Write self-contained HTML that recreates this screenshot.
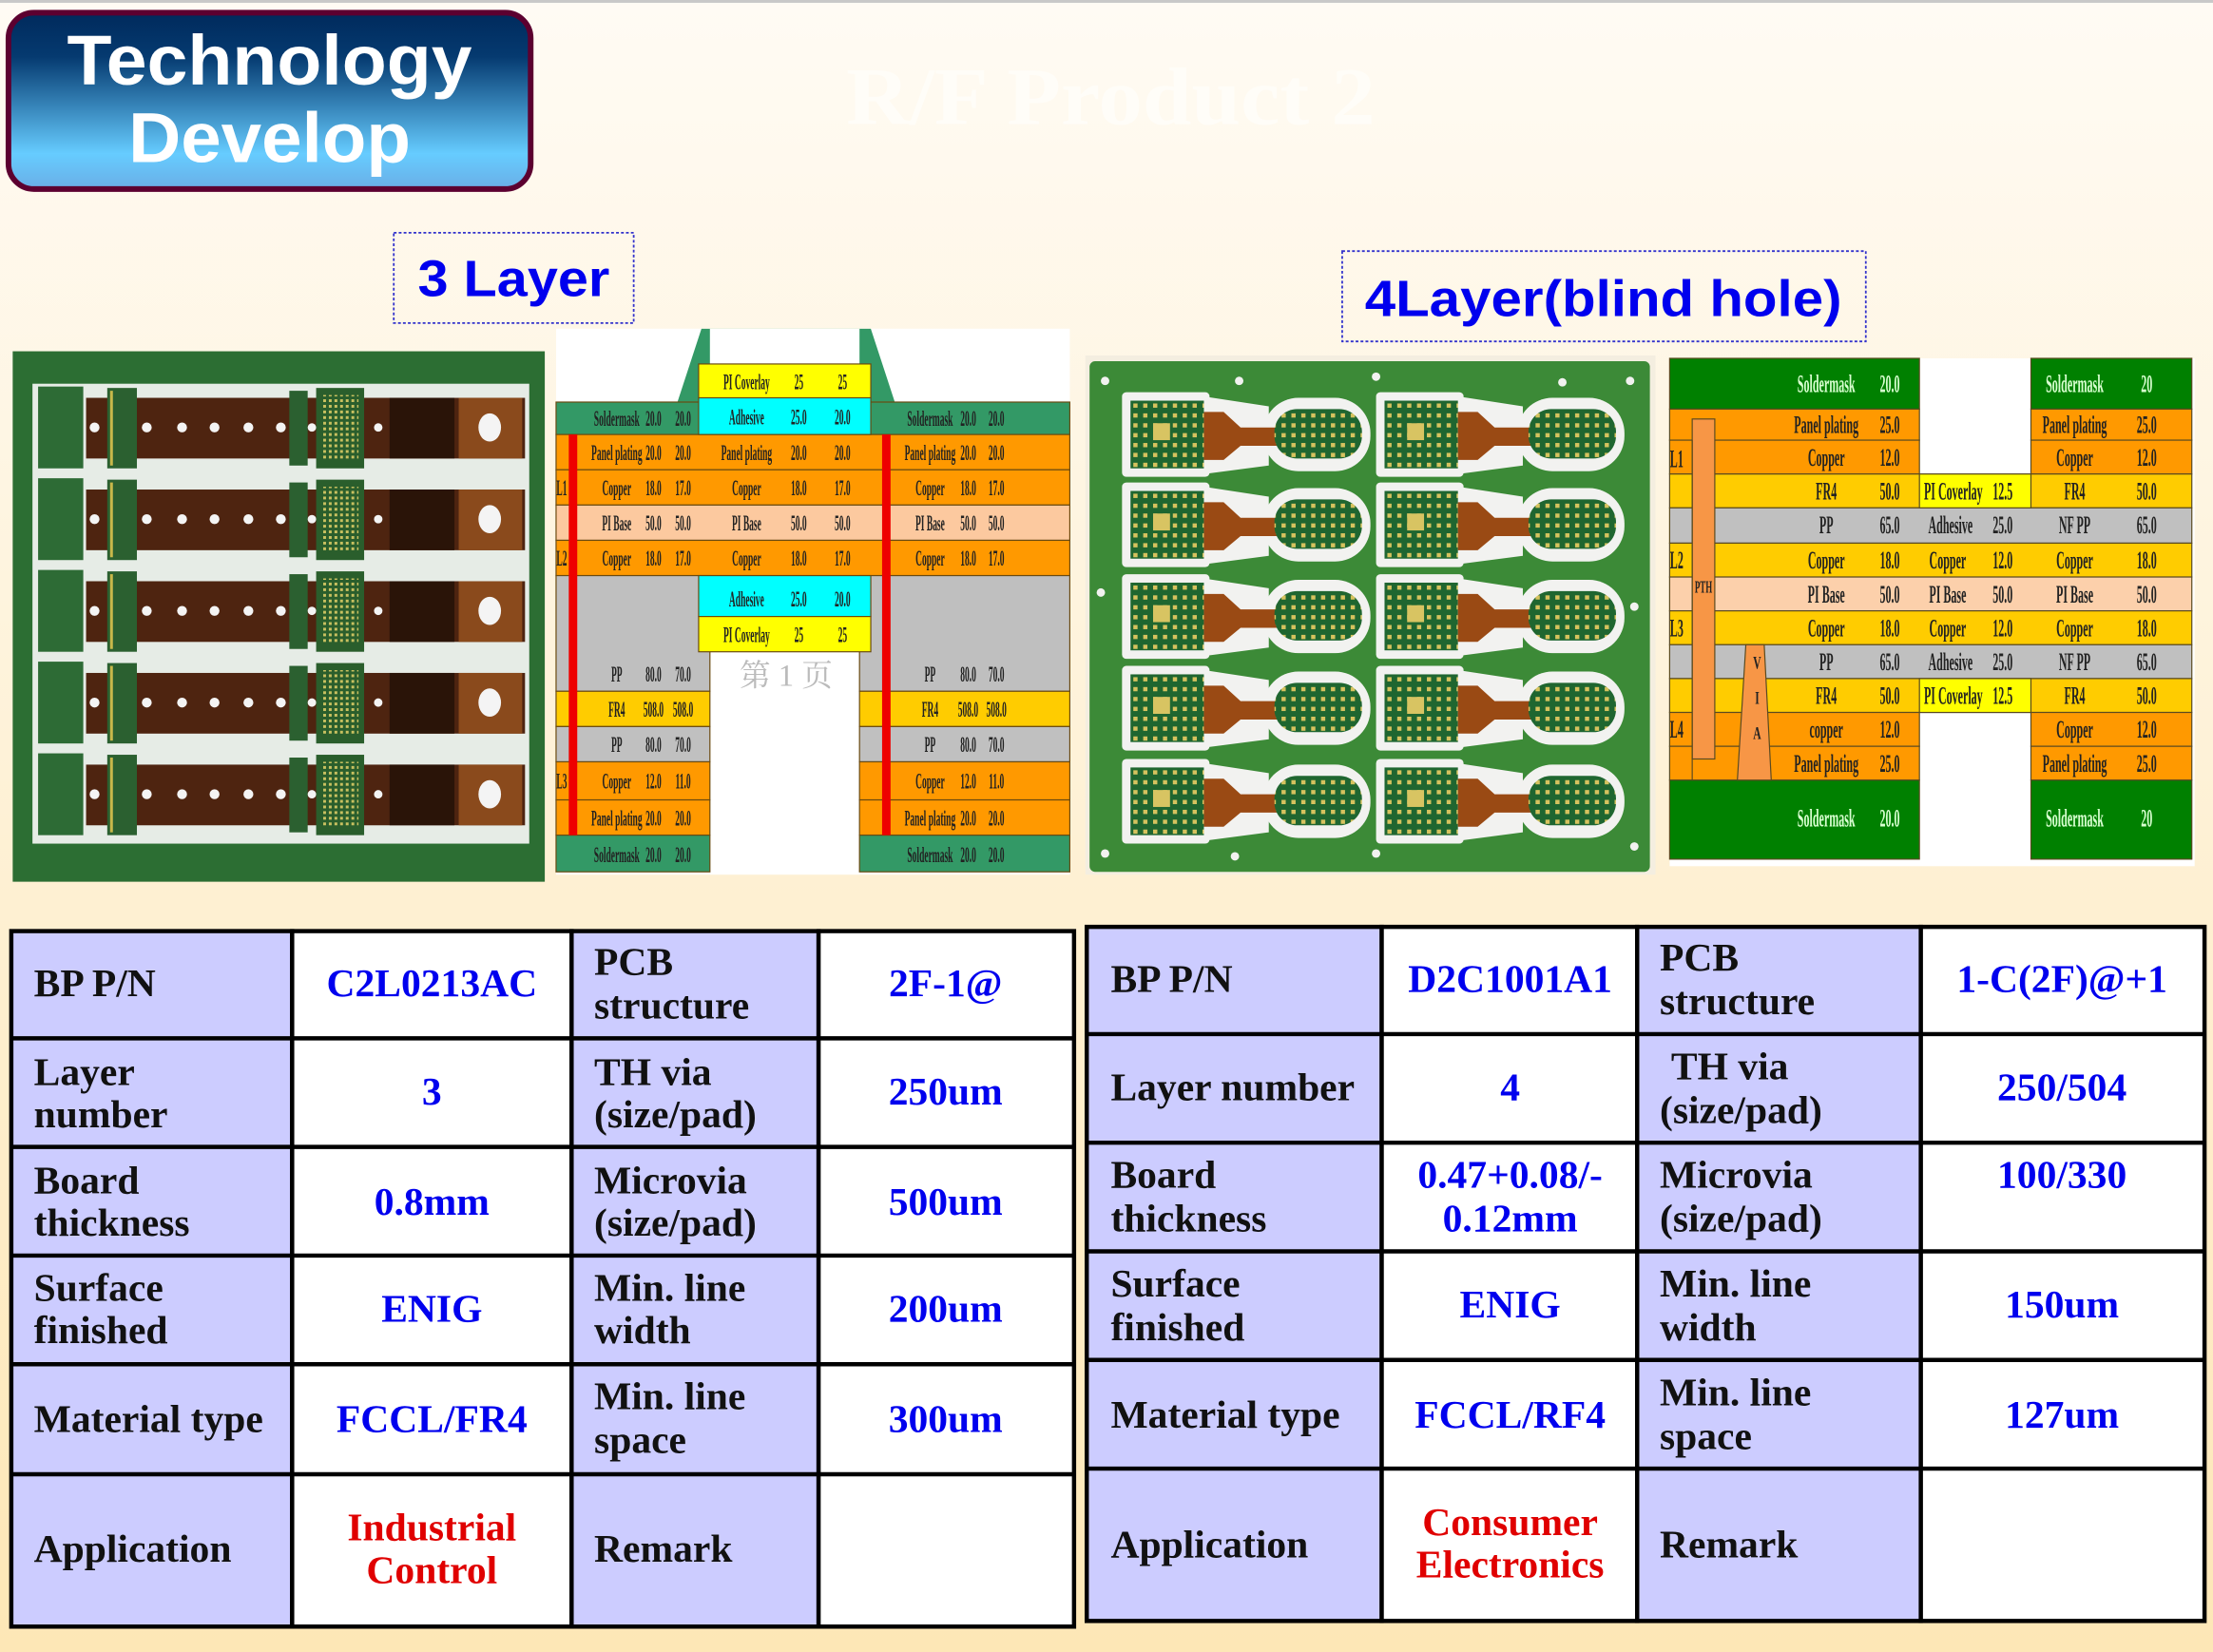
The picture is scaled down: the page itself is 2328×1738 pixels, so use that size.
<!DOCTYPE html>
<html><head><meta charset="utf-8"><style>
html,body{margin:0;padding:0;}
body{width:2328px;height:1738px;overflow:hidden;}
svg{display:block;}
.st{font-family:"Liberation Serif",serif;font-weight:bold;font-size:16px;fill:#222;text-anchor:middle;}
.st2{font-family:"Liberation Serif",serif;font-weight:bold;font-size:18px;fill:#222;text-anchor:middle;}
.sw{fill:#d8ffd0;}
.tl{font-family:"Liberation Serif",serif;font-weight:bold;font-size:28px;fill:#111;}
.tv{font-family:"Liberation Serif",serif;font-weight:bold;font-size:28px;fill:#0000ee;text-anchor:middle;}
.tr{font-family:"Liberation Serif",serif;font-weight:bold;font-size:28px;fill:#e00000;text-anchor:middle;}
</style></head><body>
<svg width="2328" height="1738" viewBox="0 0 1568 1171" preserveAspectRatio="none" xmlns="http://www.w3.org/2000/svg">
<defs>
<linearGradient id="bg" x1="0" y1="0" x2="0" y2="1"><stop offset="0" stop-color="#fffbf4"/><stop offset="1" stop-color="#fde7b6"/></linearGradient>
<linearGradient id="tb" x1="0" y1="0" x2="0" y2="1"><stop offset="0" stop-color="#002a5c"/><stop offset="0.25" stop-color="#053a70"/><stop offset="0.8" stop-color="#66ccff"/><stop offset="1" stop-color="#6aaee6"/></linearGradient>
<pattern id="pads" width="7" height="7" patternUnits="userSpaceOnUse"><rect width="7" height="7" fill="#1f6630"/><rect x="1" y="1" width="3" height="3" fill="#d6c25e"/></pattern>
<pattern id="bga" width="4" height="4" patternUnits="userSpaceOnUse"><rect width="4" height="4" fill="#2a5e2c"/><rect x="1" y="1" width="2" height="2" fill="#c8c060"/></pattern>
</defs>
<rect width="1568" height="1171" fill="url(#bg)"/>
<rect width="1568" height="2" fill="#c8c8c8"/>

<rect x="6" y="9" width="370" height="125" rx="18" fill="url(#tb)" stroke="#5c0030" stroke-width="4"/>
<text x="191" y="60" text-anchor="middle" font-family="Liberation Sans,sans-serif" font-weight="bold" font-size="50" fill="#fff" textLength="287" lengthAdjust="spacingAndGlyphs">Technology</text>
<text x="191" y="115" text-anchor="middle" font-family="Liberation Sans,sans-serif" font-weight="bold" font-size="50" fill="#fff" textLength="200" lengthAdjust="spacingAndGlyphs">Develop</text>
<text x="787" y="88" text-anchor="middle" font-family="Liberation Serif,serif" font-weight="bold" font-size="58" fill="#fffdf8" textLength="375" lengthAdjust="spacingAndGlyphs">R/F Product 2</text>

<rect x="279" y="165" width="170" height="64" fill="none" stroke="#3333cc" stroke-width="1.2" stroke-dasharray="2 1.5"/>
<text x="364" y="210" text-anchor="middle" font-family="Liberation Sans,sans-serif" font-weight="bold" font-size="36" fill="#0000ee" textLength="136" lengthAdjust="spacingAndGlyphs">3 Layer</text>
<rect x="951" y="178" width="371" height="64" fill="none" stroke="#3333cc" stroke-width="1.2" stroke-dasharray="2 1.5"/>
<text x="1136" y="224" text-anchor="middle" font-family="Liberation Sans,sans-serif" font-weight="bold" font-size="36" fill="#0000ee" textLength="338" lengthAdjust="spacingAndGlyphs">4Layer(blind hole)</text>

<!-- photo 1 -->
<rect x="9" y="249" width="377" height="376" fill="#2c6e33"/>
<rect x="23" y="272" width="352" height="326" fill="#e6ece6"/>
<g id="r1" transform="translate(0,282)">
<rect x="27" y="-8" width="32" height="58" fill="#2d6b35"/>
<rect x="61" y="0" width="311" height="43" fill="#4e2410"/>
<rect x="76" y="-7" width="21" height="57" fill="#2b6030"/>
<rect x="78" y="-5" width="2" height="53" fill="#c8b84a"/>
<rect x="205" y="-5" width="13" height="53" fill="#2b6030"/>
<rect x="224" y="-7" width="34" height="57" fill="#2a5e2c"/>
<rect x="228" y="-2" width="26" height="46" fill="url(#bga)"/>
<rect x="276" y="0" width="46" height="43" fill="#2a1408"/>
<rect x="325" y="0" width="45" height="43" fill="#8a4a1c"/>
<ellipse cx="347" cy="21" rx="8" ry="10" fill="#f4f4f4"/>
<g fill="#f4f4f4"><circle cx="67" cy="21" r="3.5"/><circle cx="104" cy="21" r="3.5"/><circle cx="129" cy="21" r="3.5"/><circle cx="152" cy="21" r="3.5"/><circle cx="176" cy="21" r="3.5"/><circle cx="199" cy="21" r="3.5"/><circle cx="221" cy="21" r="3"/><circle cx="268" cy="21" r="3"/></g>
</g>
<use href="#r1" transform="translate(0,65)"/>
<use href="#r1" transform="translate(0,130)"/>
<use href="#r1" transform="translate(0,195)"/>
<use href="#r1" transform="translate(0,260)"/>

<!-- stackup 1 -->
<rect x="394" y="233" width="364" height="387" fill="#fff"/>
<polygon points="480,285 497,233 617,233 634,285" fill="#339966"/>
<rect x="503" y="233" width="106" height="26" fill="#fff"/>
<g stroke="#6a4a10" stroke-width="0.8">
<rect x="394" y="285" width="364" height="23" fill="#339966"/>
<rect x="394" y="308" width="364" height="25" fill="#ff9900"/>
<rect x="394" y="333" width="364" height="25" fill="#ff9900"/>
<rect x="394" y="358" width="364" height="25" fill="#fcc99f"/>
<rect x="394" y="383" width="364" height="25" fill="#ff9900"/>
<rect x="394" y="408" width="109" height="82" fill="#bfbfbf"/>
<rect x="609" y="408" width="149" height="82" fill="#bfbfbf"/>
<rect x="394" y="490" width="109" height="25" fill="#ffcc00"/>
<rect x="609" y="490" width="149" height="25" fill="#ffcc00"/>
<rect x="394" y="515" width="109" height="25" fill="#c0c0c0"/>
<rect x="609" y="515" width="149" height="25" fill="#c0c0c0"/>
<rect x="394" y="540" width="109" height="27" fill="#ff9900"/>
<rect x="609" y="540" width="149" height="27" fill="#ff9900"/>
<rect x="394" y="567" width="109" height="25" fill="#ff9900"/>
<rect x="609" y="567" width="149" height="25" fill="#ff9900"/>
<rect x="394" y="592" width="109" height="26" fill="#339966"/>
<rect x="609" y="592" width="149" height="26" fill="#339966"/>
<rect x="495" y="258" width="122" height="24" fill="#ffff00"/>
<rect x="495" y="282" width="122" height="26" fill="#00ffff"/>
<rect x="495" y="408" width="122" height="29" fill="#00ffff"/>
<rect x="495" y="437" width="122" height="25" fill="#ffff00"/>
</g>
<rect x="403" y="308" width="6" height="284" fill="#ee0000"/>
<rect x="625" y="308" width="6" height="284" fill="#ee0000"/>
<text x="557" y="486" font-family="Liberation Serif,Noto Serif CJK SC,serif" font-size="22" fill="#bbb" text-anchor="middle">第 1 页</text>
<g class="st">
<text transform="translate(398,351) scale(.4 1)">L1</text><text transform="translate(398,401) scale(.4 1)">L2</text><text transform="translate(398,559) scale(.4 1)">L3</text>
<text transform="translate(437,302) scale(.4 1)">Soldermask</text><text transform="translate(463,302) scale(.4 1)">20.0</text><text transform="translate(484,302) scale(.4 1)">20.0</text>
<text transform="translate(437,326) scale(.4 1)">Panel plating</text><text transform="translate(463,326) scale(.4 1)">20.0</text><text transform="translate(484,326) scale(.4 1)">20.0</text>
<text transform="translate(437,351) scale(.4 1)">Copper</text><text transform="translate(463,351) scale(.4 1)">18.0</text><text transform="translate(484,351) scale(.4 1)">17.0</text>
<text transform="translate(437,376) scale(.4 1)">PI Base</text><text transform="translate(463,376) scale(.4 1)">50.0</text><text transform="translate(484,376) scale(.4 1)">50.0</text>
<text transform="translate(437,401) scale(.4 1)">Copper</text><text transform="translate(463,401) scale(.4 1)">18.0</text><text transform="translate(484,401) scale(.4 1)">17.0</text>
<text transform="translate(437,483) scale(.4 1)">PP</text><text transform="translate(463,483) scale(.4 1)">80.0</text><text transform="translate(484,483) scale(.4 1)">70.0</text>
<text transform="translate(437,508) scale(.4 1)">FR4</text><text transform="translate(463,508) scale(.4 1)">508.0</text><text transform="translate(484,508) scale(.4 1)">508.0</text>
<text transform="translate(437,533) scale(.4 1)">PP</text><text transform="translate(463,533) scale(.4 1)">80.0</text><text transform="translate(484,533) scale(.4 1)">70.0</text>
<text transform="translate(437,559) scale(.4 1)">Copper</text><text transform="translate(463,559) scale(.4 1)">12.0</text><text transform="translate(484,559) scale(.4 1)">11.0</text>
<text transform="translate(437,585) scale(.4 1)">Panel plating</text><text transform="translate(463,585) scale(.4 1)">20.0</text><text transform="translate(484,585) scale(.4 1)">20.0</text>
<text transform="translate(437,611) scale(.4 1)">Soldermask</text><text transform="translate(463,611) scale(.4 1)">20.0</text><text transform="translate(484,611) scale(.4 1)">20.0</text>

<text transform="translate(529,276) scale(.4 1)">PI Coverlay</text><text transform="translate(566,276) scale(.4 1)">25</text><text transform="translate(597,276) scale(.4 1)">25</text>
<text transform="translate(529,301) scale(.4 1)">Adhesive</text><text transform="translate(566,301) scale(.4 1)">25.0</text><text transform="translate(597,301) scale(.4 1)">20.0</text>
<text transform="translate(529,326) scale(.4 1)">Panel plating</text><text transform="translate(566,326) scale(.4 1)">20.0</text><text transform="translate(597,326) scale(.4 1)">20.0</text>
<text transform="translate(529,351) scale(.4 1)">Copper</text><text transform="translate(566,351) scale(.4 1)">18.0</text><text transform="translate(597,351) scale(.4 1)">17.0</text>
<text transform="translate(529,376) scale(.4 1)">PI Base</text><text transform="translate(566,376) scale(.4 1)">50.0</text><text transform="translate(597,376) scale(.4 1)">50.0</text>
<text transform="translate(529,401) scale(.4 1)">Copper</text><text transform="translate(566,401) scale(.4 1)">18.0</text><text transform="translate(597,401) scale(.4 1)">17.0</text>
<text transform="translate(529,430) scale(.4 1)">Adhesive</text><text transform="translate(566,430) scale(.4 1)">25.0</text><text transform="translate(597,430) scale(.4 1)">20.0</text>
<text transform="translate(529,455) scale(.4 1)">PI Coverlay</text><text transform="translate(566,455) scale(.4 1)">25</text><text transform="translate(597,455) scale(.4 1)">25</text>

<text transform="translate(659,302) scale(.4 1)">Soldermask</text><text transform="translate(686,302) scale(.4 1)">20.0</text><text transform="translate(706,302) scale(.4 1)">20.0</text>
<text transform="translate(659,326) scale(.4 1)">Panel plating</text><text transform="translate(686,326) scale(.4 1)">20.0</text><text transform="translate(706,326) scale(.4 1)">20.0</text>
<text transform="translate(659,351) scale(.4 1)">Copper</text><text transform="translate(686,351) scale(.4 1)">18.0</text><text transform="translate(706,351) scale(.4 1)">17.0</text>
<text transform="translate(659,376) scale(.4 1)">PI Base</text><text transform="translate(686,376) scale(.4 1)">50.0</text><text transform="translate(706,376) scale(.4 1)">50.0</text>
<text transform="translate(659,401) scale(.4 1)">Copper</text><text transform="translate(686,401) scale(.4 1)">18.0</text><text transform="translate(706,401) scale(.4 1)">17.0</text>
<text transform="translate(659,483) scale(.4 1)">PP</text><text transform="translate(686,483) scale(.4 1)">80.0</text><text transform="translate(706,483) scale(.4 1)">70.0</text>
<text transform="translate(659,508) scale(.4 1)">FR4</text><text transform="translate(686,508) scale(.4 1)">508.0</text><text transform="translate(706,508) scale(.4 1)">508.0</text>
<text transform="translate(659,533) scale(.4 1)">PP</text><text transform="translate(686,533) scale(.4 1)">80.0</text><text transform="translate(706,533) scale(.4 1)">70.0</text>
<text transform="translate(659,559) scale(.4 1)">Copper</text><text transform="translate(686,559) scale(.4 1)">12.0</text><text transform="translate(706,559) scale(.4 1)">11.0</text>
<text transform="translate(659,585) scale(.4 1)">Panel plating</text><text transform="translate(686,585) scale(.4 1)">20.0</text><text transform="translate(706,585) scale(.4 1)">20.0</text>
<text transform="translate(659,611) scale(.4 1)">Soldermask</text><text transform="translate(686,611) scale(.4 1)">20.0</text><text transform="translate(706,611) scale(.4 1)">20.0</text>
</g>

<!-- photo 2 -->
<rect x="769" y="252" width="404" height="368" fill="#f4eee0"/>
<rect x="772" y="256" width="397" height="362" rx="4" fill="#3c8a37"/>
<g id="u1" transform="translate(795,278)">
<rect x="0" y="0" width="62" height="60" rx="3" fill="#f2f2f0"/>
<polygon points="58,3 104,10 104,52 58,58" fill="#f2f2f0"/>
<rect x="100" y="4" width="76" height="52" rx="25" fill="#f2f2f0"/>
<rect x="6" y="6" width="52" height="48" fill="url(#pads)"/>
<polygon points="58,14 72,14 84,25 112,25 112,38 84,38 72,48 58,48" fill="#9a4a14"/>
<rect x="108" y="12" width="62" height="35" rx="16" fill="url(#pads)"/>
<rect x="22" y="22" width="12" height="12" fill="#d8c462"/>
</g>
<use href="#u1" transform="translate(0,64)"/><use href="#u1" transform="translate(0,129)"/><use href="#u1" transform="translate(0,194)"/><use href="#u1" transform="translate(0,260)"/>
<use href="#u1" transform="translate(180,0)"/><use href="#u1" transform="translate(180,64)"/><use href="#u1" transform="translate(180,129)"/><use href="#u1" transform="translate(180,194)"/><use href="#u1" transform="translate(180,260)"/>
<g fill="#f2f2f0"><circle cx="783" cy="270" r="3"/><circle cx="878" cy="270" r="3"/><circle cx="975" cy="267" r="3"/><circle cx="1107" cy="271" r="3"/><circle cx="1155" cy="270" r="3"/><circle cx="780" cy="420" r="3"/><circle cx="1158" cy="430" r="3"/><circle cx="783" cy="605" r="3"/><circle cx="875" cy="607" r="3"/><circle cx="975" cy="605" r="3"/><circle cx="1158" cy="600" r="3"/></g>

<!-- stackup 2 -->
<rect x="1183" y="254" width="372" height="360" fill="#fff"/>
<g stroke="#5a4a20" stroke-width="0.8">
<rect x="1183" y="254" width="177" height="36" fill="#008000"/><rect x="1439" y="254" width="114" height="36" fill="#008000"/>
<rect x="1183" y="290" width="177" height="22" fill="#ff9900"/><rect x="1439" y="290" width="114" height="22" fill="#ff9900"/>
<rect x="1183" y="312" width="177" height="24" fill="#ff9900"/><rect x="1439" y="312" width="114" height="24" fill="#ff9900"/>
<rect x="1183" y="336" width="370" height="24" fill="#ffcc00"/>
<rect x="1183" y="360" width="370" height="25" fill="#c0c0c0"/>
<rect x="1183" y="385" width="370" height="24" fill="#ffcc00"/>
<rect x="1183" y="409" width="370" height="24" fill="#fcd0ab"/>
<rect x="1183" y="433" width="370" height="24" fill="#ffcc00"/>
<rect x="1183" y="457" width="370" height="24" fill="#c0c0c0"/>
<rect x="1183" y="481" width="370" height="24" fill="#ffcc00"/>
<rect x="1360" y="336" width="79" height="24" fill="#ffff00"/>
<rect x="1360" y="481" width="79" height="24" fill="#ffff00"/>
<rect x="1183" y="505" width="177" height="24" fill="#ff9900"/><rect x="1439" y="505" width="114" height="24" fill="#ff9900"/>
<rect x="1183" y="529" width="177" height="24" fill="#ff9900"/><rect x="1439" y="529" width="114" height="24" fill="#ff9900"/>
<rect x="1183" y="553" width="177" height="56" fill="#008000"/><rect x="1439" y="553" width="114" height="56" fill="#008000"/>
<rect x="1199" y="297" width="16" height="241" fill="#f79646"/>
<polygon points="1237,457 1250,457 1255,553 1231,553" fill="#f79646"/>
<line x1="1199" y1="312" x2="1199" y2="553"/>
</g>
<g class="st2">
<text transform="translate(1188,331) scale(.45 1)">L1</text><text transform="translate(1188,403) scale(.45 1)">L2</text><text transform="translate(1188,451) scale(.45 1)">L3</text><text transform="translate(1188,523) scale(.45 1)">L4</text>
<text transform="translate(1207,420) scale(.5 1)" style="font-size:12px">PTH</text>
<text transform="translate(1245,474) scale(.6 1)" style="font-size:13px">V</text><text transform="translate(1245,499) scale(.6 1)" style="font-size:13px">I</text><text transform="translate(1245,524) scale(.6 1)" style="font-size:13px">A</text>
<text class="sw" transform="translate(1294,278) scale(.45 1)">Soldermask</text><text class="sw" transform="translate(1339,278) scale(.45 1)">20.0</text>
<text class="sw" transform="translate(1470,278) scale(.45 1)">Soldermask</text><text class="sw" transform="translate(1521,278) scale(.45 1)">20</text>
<text transform="translate(1294,307) scale(.45 1)">Panel plating</text><text transform="translate(1339,307) scale(.45 1)">25.0</text><text transform="translate(1470,307) scale(.45 1)">Panel plating</text><text transform="translate(1521,307) scale(.45 1)">25.0</text>
<text transform="translate(1294,330) scale(.45 1)">Copper</text><text transform="translate(1339,330) scale(.45 1)">12.0</text><text transform="translate(1470,330) scale(.45 1)">Copper</text><text transform="translate(1521,330) scale(.45 1)">12.0</text>
<text transform="translate(1294,354) scale(.45 1)">FR4</text><text transform="translate(1339,354) scale(.45 1)">50.0</text><text transform="translate(1384,354) scale(.45 1)">PI Coverlay</text><text transform="translate(1419,354) scale(.45 1)">12.5</text><text transform="translate(1470,354) scale(.45 1)">FR4</text><text transform="translate(1521,354) scale(.45 1)">50.0</text>
<text transform="translate(1294,378) scale(.45 1)">PP</text><text transform="translate(1339,378) scale(.45 1)">65.0</text><text transform="translate(1382,378) scale(.45 1)">Adhesive</text><text transform="translate(1419,378) scale(.45 1)">25.0</text><text transform="translate(1470,378) scale(.45 1)">NF PP</text><text transform="translate(1521,378) scale(.45 1)">65.0</text>
<text transform="translate(1294,403) scale(.45 1)">Copper</text><text transform="translate(1339,403) scale(.45 1)">18.0</text><text transform="translate(1380,403) scale(.45 1)">Copper</text><text transform="translate(1419,403) scale(.45 1)">12.0</text><text transform="translate(1470,403) scale(.45 1)">Copper</text><text transform="translate(1521,403) scale(.45 1)">18.0</text>
<text transform="translate(1294,427) scale(.45 1)">PI Base</text><text transform="translate(1339,427) scale(.45 1)">50.0</text><text transform="translate(1380,427) scale(.45 1)">PI Base</text><text transform="translate(1419,427) scale(.45 1)">50.0</text><text transform="translate(1470,427) scale(.45 1)">PI Base</text><text transform="translate(1521,427) scale(.45 1)">50.0</text>
<text transform="translate(1294,451) scale(.45 1)">Copper</text><text transform="translate(1339,451) scale(.45 1)">18.0</text><text transform="translate(1380,451) scale(.45 1)">Copper</text><text transform="translate(1419,451) scale(.45 1)">12.0</text><text transform="translate(1470,451) scale(.45 1)">Copper</text><text transform="translate(1521,451) scale(.45 1)">18.0</text>
<text transform="translate(1294,475) scale(.45 1)">PP</text><text transform="translate(1339,475) scale(.45 1)">65.0</text><text transform="translate(1382,475) scale(.45 1)">Adhesive</text><text transform="translate(1419,475) scale(.45 1)">25.0</text><text transform="translate(1470,475) scale(.45 1)">NF PP</text><text transform="translate(1521,475) scale(.45 1)">65.0</text>
<text transform="translate(1294,499) scale(.45 1)">FR4</text><text transform="translate(1339,499) scale(.45 1)">50.0</text><text transform="translate(1384,499) scale(.45 1)">PI Coverlay</text><text transform="translate(1419,499) scale(.45 1)">12.5</text><text transform="translate(1470,499) scale(.45 1)">FR4</text><text transform="translate(1521,499) scale(.45 1)">50.0</text>
<text transform="translate(1294,523) scale(.45 1)">copper</text><text transform="translate(1339,523) scale(.45 1)">12.0</text><text transform="translate(1470,523) scale(.45 1)">Copper</text><text transform="translate(1521,523) scale(.45 1)">12.0</text>
<text transform="translate(1294,547) scale(.45 1)">Panel plating</text><text transform="translate(1339,547) scale(.45 1)">25.0</text><text transform="translate(1470,547) scale(.45 1)">Panel plating</text><text transform="translate(1521,547) scale(.45 1)">25.0</text>
<text class="sw" transform="translate(1294,586) scale(.45 1)">Soldermask</text><text class="sw" transform="translate(1339,586) scale(.45 1)">20.0</text><text class="sw" transform="translate(1470,586) scale(.45 1)">Soldermask</text><text class="sw" transform="translate(1521,586) scale(.45 1)">20</text>
</g>

<!-- left table -->
<g stroke="#000" stroke-width="3">
<rect x="8" y="660" width="199" height="493" fill="#ccccff"/>
<rect x="207" y="660" width="198" height="493" fill="#fff"/>
<rect x="405" y="660" width="175" height="493" fill="#ccccff"/>
<rect x="580" y="660" width="181" height="493" fill="#fff"/>
<line x1="8" y1="736" x2="761" y2="736"/><line x1="8" y1="813" x2="761" y2="813"/><line x1="8" y1="890" x2="761" y2="890"/><line x1="8" y1="967" x2="761" y2="967"/><line x1="8" y1="1045" x2="761" y2="1045"/>
</g>
<g class="tl">
<text x="24" y="706">BP P/N</text>
<text x="24" y="769">Layer</text><text x="24" y="799">number</text>
<text x="24" y="846">Board</text><text x="24" y="876">thickness</text>
<text x="24" y="922">Surface</text><text x="24" y="952">finished</text>
<text x="24" y="1015">Material type</text>
<text x="24" y="1107">Application</text>
<text x="421" y="691">PCB</text><text x="421" y="722">structure</text>
<text x="421" y="769">TH via</text><text x="421" y="799">(size/pad)</text>
<text x="421" y="846">Microvia</text><text x="421" y="876">(size/pad)</text>
<text x="421" y="922">Min. line</text><text x="421" y="952">width</text>
<text x="421" y="999">Min. line</text><text x="421" y="1030">space</text>
<text x="421" y="1107">Remark</text>
</g>
<g class="tv">
<text x="306" y="706">C2L0213AC</text><text x="670" y="706">2F-1@</text>
<text x="306" y="783">3</text><text x="670" y="783">250um</text>
<text x="306" y="861">0.8mm</text><text x="670" y="861">500um</text>
<text x="306" y="937">ENIG</text><text x="670" y="937">200um</text>
<text x="306" y="1015">FCCL/FR4</text><text x="670" y="1015">300um</text>
</g>
<g class="tr"><text x="306" y="1092">Industrial</text><text x="306" y="1122">Control</text></g>

<!-- right table -->
<g stroke="#000" stroke-width="3">
<rect x="770" y="657" width="209" height="492" fill="#ccccff"/>
<rect x="979" y="657" width="181" height="492" fill="#fff"/>
<rect x="1160" y="657" width="201" height="492" fill="#ccccff"/>
<rect x="1361" y="657" width="201" height="492" fill="#fff"/>
<line x1="770" y1="733" x2="1562" y2="733"/><line x1="770" y1="810" x2="1562" y2="810"/><line x1="770" y1="887" x2="1562" y2="887"/><line x1="770" y1="964" x2="1562" y2="964"/><line x1="770" y1="1041" x2="1562" y2="1041"/>
</g>
<g class="tl">
<text x="787" y="703">BP P/N</text>
<text x="787" y="780">Layer number</text>
<text x="787" y="842">Board</text><text x="787" y="873">thickness</text>
<text x="787" y="919">Surface</text><text x="787" y="950">finished</text>
<text x="787" y="1012">Material type</text>
<text x="787" y="1104">Application</text>
<text x="1176" y="688">PCB</text><text x="1176" y="719">structure</text>
<text x="1184" y="765">TH via</text><text x="1176" y="796">(size/pad)</text>
<text x="1176" y="842">Microvia</text><text x="1176" y="873">(size/pad)</text>
<text x="1176" y="919">Min. line</text><text x="1176" y="950">width</text>
<text x="1176" y="996">Min. line</text><text x="1176" y="1027">space</text>
<text x="1176" y="1104">Remark</text>
</g>
<g class="tv">
<text x="1070" y="703">D2C1001A1</text><text x="1461" y="703">1-C(2F)@+1</text>
<text x="1070" y="780">4</text><text x="1461" y="780">250/504</text>
<text x="1070" y="842">0.47+0.08/-</text><text x="1070" y="873">0.12mm</text><text x="1461" y="842">100/330</text>
<text x="1070" y="934">ENIG</text><text x="1461" y="934">150um</text>
<text x="1070" y="1012">FCCL/RF4</text><text x="1461" y="1012">127um</text>
</g>
<g class="tr"><text x="1070" y="1088">Consumer</text><text x="1070" y="1118">Electronics</text></g>
</svg>
</body></html>
